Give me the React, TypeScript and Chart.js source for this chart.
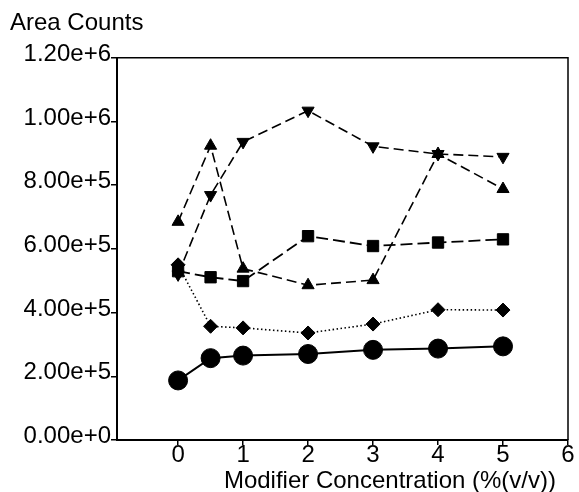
import React, { useEffect, useRef } from 'react';
import { Chart, registerables } from 'chart.js';

Chart.register(...registerables);

const concentrations = [0, 0.5, 1, 2, 3, 4, 5];
const circleSeries = [187000, 257000, 265000, 270000, 283000, 287000, 294000];
const diamondSeries = [550000, 357000, 352000, 336000, 364000, 409000, 408000];
const squareSeries = [530000, 511000, 499000, 640000, 609000, 620000, 630000];
const triUpSeries = [685000, 924000, 538000, 486000, 502000, 898000, 788000];
const triDownSeries = [520000, 769000, 936000, 1034000, 922000, 898000, 889000];
const xTickValues = [0, 1, 2, 3, 4, 5, 6];
const yTickValues = [0, 200000, 400000, 600000, 800000, 1000000, 1200000];
const yTitle = 'Area Counts';
const xTitle = 'Modifier Concentration (%(v/v))';

const FONT = "'Liberation Sans', Arial, Helvetica, sans-serif";
const FS = 24;

const toPoints = (vals: number[]) => vals.map((v, i) => ({ x: concentrations[i], y: v }));

const framePlugin = {
  id: 'frame',
  beforeDatasetsDraw(chart: any) {
    const { ctx, chartArea } = chart;
    const { left, right, top, bottom } = chartArea;
    ctx.save();
    ctx.strokeStyle = '#000';
    ctx.lineWidth = 1.5;
    ctx.beginPath();
    ctx.moveTo(left, top);
    ctx.lineTo(right, top);
    ctx.lineTo(right, bottom);
    ctx.stroke();
    ctx.restore();
  },
};

export default function App() {
  const ref = useRef<HTMLCanvasElement | null>(null);

  useEffect(() => {
    document.body.style.margin = '0';
    document.body.style.overflow = 'hidden';
    const canvas = ref.current;
    if (!canvas) return;
    const common = {
      borderColor: '#000',
      backgroundColor: '#000',
      pointBackgroundColor: '#000',
      pointBorderColor: '#000',
      pointBorderWidth: 1,
      fill: false,
      tension: 0,
    };
    const chart = new Chart(canvas, {
      type: 'line',
      data: {
        datasets: [
          {
            ...common,
            label: 'triangle down',
            data: toPoints(triDownSeries),
            borderWidth: 1.6,
            borderDash: [10, 5],
            pointStyle: 'triangle',
            rotation: 180,
            pointRadius: 7,
          },
          {
            ...common,
            label: 'triangle up',
            data: toPoints(triUpSeries),
            borderWidth: 1.6,
            borderDash: [10, 5],
            pointStyle: 'triangle',
            pointRadius: 7,
          },
          {
            ...common,
            label: 'square',
            data: toPoints(squareSeries),
            borderWidth: 1.8,
            borderDash: [12, 5],
            pointStyle: 'rect',
            pointRadius: 8,
          },
          {
            ...common,
            label: 'diamond',
            data: toPoints(diamondSeries),
            borderWidth: 1.6,
            borderDash: [1.5, 2.5],
            pointStyle: 'rectRot',
            pointRadius: 7,
          },
          {
            ...common,
            label: 'circle',
            data: toPoints(circleSeries),
            borderWidth: 2,
            pointStyle: 'circle',
            pointRadius: 9.5,
          },
        ],
      },
      options: {
        animation: false,
        responsive: false,
        maintainAspectRatio: false,
        layout: { padding: { left: 10, right: 11, top: 0, bottom: 0 } },
        plugins: {
          legend: { display: false },
          tooltip: { enabled: false },
          title: {
            display: true,
            text: yTitle,
            align: 'start',
            color: '#000',
            font: { family: FONT, size: FS, weight: 'normal', lineHeight: 1.2 },
            padding: { top: 9, bottom: 20 },
          },
        },
        scales: {
          x: {
            type: 'linear',
            min: -0.94,
            max: 6,
            afterBuildTicks: (scale: any) => {
              scale.ticks = xTickValues.map((v) => ({ value: v }));
            },
            afterFit: (scale: any) => {
              scale.height = 52;
            },
            grid: {
              display: true,
              drawOnChartArea: false,
              drawTicks: true,
              tickLength: 5,
              color: '#000',
              lineWidth: 1.5,
            },
            border: { display: true, color: '#000', width: 2 },
            ticks: {
              color: '#000',
              padding: -4,
              maxRotation: 0,
              autoSkip: false,
              font: { family: FONT, size: FS },
              callback: (v: any) => String(v),
            },
            title: {
              display: true,
              text: xTitle + '\u2002',
              align: 'end',
              color: '#000',
              font: { family: FONT, size: FS, lineHeight: 1 },
              padding: { top: 0, bottom: -1 },
            },
          },
          y: {
            type: 'linear',
            min: 0,
            max: 1200000,
            afterBuildTicks: (scale: any) => {
              scale.ticks = yTickValues.map((v) => ({ value: v }));
            },
            afterFit: (scale: any) => {
              scale.width = 107;
            },
            grid: {
              display: true,
              drawOnChartArea: false,
              drawTicks: true,
              tickLength: 6,
              color: '#000',
              lineWidth: 1.5,
            },
            border: { display: true, color: '#000', width: 2 },
            ticks: {
              color: '#000',
              padding: 0,
              autoSkip: false,
              font: { family: FONT, size: FS, lineHeight: '7px' },
              callback: (v: any) => [Number(v).toExponential(2), ''],
            },
          },
        },
      },
      plugins: [framePlugin],
    } as any);
    return () => chart.destroy();
  }, []);

  return <canvas ref={ref} width={579} height={492} style={{ display: 'block' }} />;
}
